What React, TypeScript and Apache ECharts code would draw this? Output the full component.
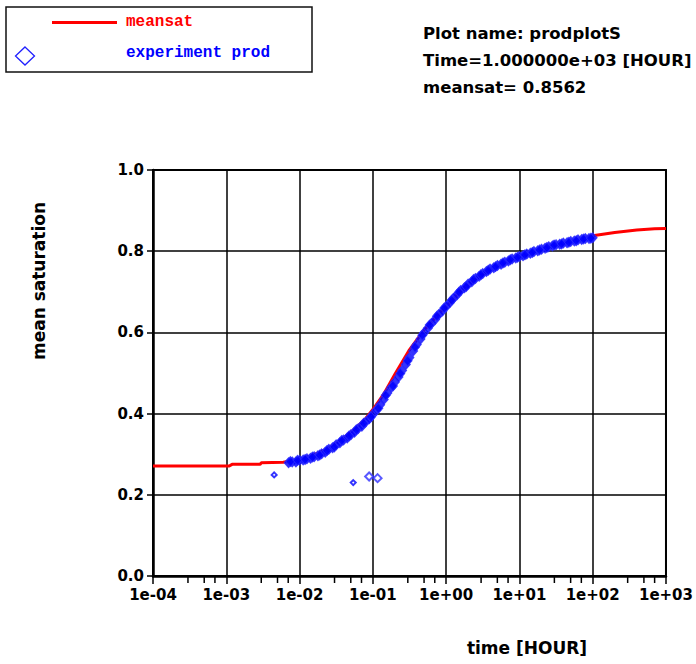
import React, { useEffect, useRef } from "react";
import * as echarts from "echarts";

// meansat (simulation curve)
const simTime = [1e-4, 1.1e-3, 1.2e-3, 2.9e-3, 3.0e-3, 6e-3, 1e-2, 1.5e-2, 2.5e-2, 4e-2, 6e-2, 8e-2, 0.1, 0.143, 0.2, 0.31, 0.49, 0.7, 1.0, 1.7, 2.6, 4, 10, 30, 70, 100, 200, 400, 700, 1000];
const simSat = [0.271, 0.271, 0.275, 0.275, 0.279, 0.280, 0.287, 0.297, 0.315, 0.340, 0.366, 0.388, 0.410, 0.450, 0.497, 0.555, 0.604, 0.635, 0.664, 0.708, 0.733, 0.755, 0.787, 0.815, 0.830, 0.838, 0.846, 0.852, 0.855, 0.856];

// experiment prod (measured points)
const expTime = [0.00708, 0.00794, 0.00891,
  0.01, 0.0112, 0.0126, 0.0141, 0.0158, 0.0178, 0.02, 0.0224, 0.0251, 0.0282, 0.0316, 0.0355, 0.0398, 0.0447, 0.0501, 0.0562, 0.0631, 0.0708, 0.0794, 0.0891,
  0.1, 0.112, 0.126, 0.141, 0.158, 0.178, 0.2, 0.224, 0.251, 0.282, 0.316, 0.355, 0.398, 0.447, 0.501, 0.562, 0.631, 0.708, 0.794, 0.891,
  1, 1.12, 1.26, 1.41, 1.58, 1.78, 2, 2.24, 2.51, 2.82, 3.16, 3.55, 3.98, 4.47, 5.01, 5.62, 6.31, 7.08, 7.94, 8.91,
  10, 11.2, 12.6, 14.1, 15.8, 17.8, 20, 22.4, 25.1, 28.2, 31.6, 35.5, 39.8, 44.7, 50.1, 56.2, 63.1, 70.8, 79.4, 89.1,
  100];
const expSat = [0.279, 0.281, 0.281,
  0.285, 0.286, 0.289, 0.290, 0.294, 0.296, 0.301, 0.305, 0.312, 0.316, 0.323, 0.328, 0.335, 0.340, 0.348, 0.354, 0.363, 0.369, 0.379, 0.387,
  0.398, 0.409, 0.422, 0.435, 0.451, 0.464, 0.478, 0.490, 0.506, 0.521, 0.538, 0.554, 0.570, 0.584, 0.599, 0.610, 0.622, 0.632, 0.644, 0.653,
  0.664, 0.673, 0.684, 0.693, 0.703, 0.710, 0.719, 0.725, 0.733, 0.738, 0.745, 0.750, 0.756, 0.759, 0.765, 0.768, 0.773, 0.776, 0.781, 0.783,
  0.787, 0.789, 0.793, 0.795, 0.799, 0.801, 0.805, 0.807, 0.811, 0.813, 0.816, 0.817, 0.820, 0.821, 0.824, 0.825, 0.828, 0.829, 0.831, 0.831,
  0.833];

// extra measured points between the main ones (scatter of the band)
const expTime2 = [0.0075, 0.0094, 0.0119, 0.0150, 0.0188, 0.0237, 0.0298, 0.0376, 0.0473, 0.0596, 0.0750, 0.0944,
  0.119, 0.150, 0.188, 0.237, 0.298, 0.376, 0.473, 0.596, 0.750, 0.944,
  1.19, 1.50, 1.88, 2.37, 2.98, 3.76, 4.73, 5.96, 7.50, 9.44,
  11.9, 15.0, 18.8, 23.7, 29.8, 37.6, 47.3, 59.6, 75.0, 94.4];
const expSat2 = [0.282, 0.285, 0.287, 0.293, 0.298, 0.309, 0.318, 0.334, 0.345, 0.360, 0.376, 0.392,
  0.413, 0.445, 0.468, 0.499, 0.530, 0.564, 0.593, 0.618, 0.640, 0.660,
  0.679, 0.699, 0.713, 0.730, 0.742, 0.753, 0.762, 0.771, 0.779, 0.785,
  0.791, 0.797, 0.803, 0.809, 0.815, 0.818, 0.822, 0.826, 0.830, 0.832];

// isolated experiment points
const smallOutTime = [0.0045, 0.054];
const smallOutSat = [0.249, 0.230];
const bigOutTime = [0.089, 0.116];
const bigOutSat = [0.245, 0.241];

// minor tick positions on the log axis
const minorTicks = [
  3e-4, 5e-4, 7e-4, 3e-3, 5e-3, 7e-3, 3e-2, 5e-2, 7e-2, 3e-1, 5e-1, 7e-1,
  3, 5, 7, 30, 50, 70, 300, 500, 700,
];

const titleLines = ["Plot name: prodplotS", "Time=1.000000e+03 [HOUR]", "meansat= 0.8562"];

const FONT = "DejaVu Sans";

const zip = (a: number[], b: number[]) => a.map((v, i) => [v, b[i]]);

export default function App() {
  const ref = useRef<HTMLDivElement>(null);
  useEffect(() => {
    if (!ref.current) return;
    const chart = echarts.init(ref.current, null, { renderer: "svg" });
    const fmtX = (v: number) => {
      const e = Math.round(Math.log10(v));
      return "1e" + (e < 0 ? "-" : "+") + String(Math.abs(e)).padStart(2, "0");
    };
    const bandStyle = { color: "#0000ff", borderColor: "#2a2aff", borderWidth: 1 };
    chart.setOption({
      animation: false,
      backgroundColor: "#fff",
      grid: {
        left: 153,
        right: 24,
        top: 170,
        bottom: 88,
        show: true,
        borderColor: "#000",
        borderWidth: 2,
      },
      xAxis: {
        type: "log",
        logBase: 10,
        min: 1e-4,
        max: 1e3,
        splitNumber: 7,
        axisLine: { show: true, lineStyle: { color: "#000", width: 2.5 } },
        axisTick: { show: true, length: 8, lineStyle: { color: "#000", width: 1.5 } },
        axisLabel: {
          formatter: fmtX,
          margin: 11,
          color: "#000",
          fontFamily: FONT,
          fontWeight: "bold",
          fontSize: 15,
        },
        splitLine: { show: true, lineStyle: { color: "#000", width: 1.5 } },
      },
      yAxis: {
        type: "value",
        min: 0,
        max: 1,
        interval: 0.2,
        axisLine: { show: true, lineStyle: { color: "#000", width: 2.5 } },
        axisTick: { show: true, length: 6, lineStyle: { color: "#000", width: 1.5 } },
        axisLabel: {
          formatter: (v: number) => v.toFixed(1),
          margin: 9,
          color: "#000",
          fontFamily: FONT,
          fontWeight: "bold",
          fontSize: 15,
        },
        splitLine: { show: true, lineStyle: { color: "#000", width: 1.5 } },
      },
      series: [
        {
          type: "custom",
          name: "minor ticks",
          clip: false,
          silent: true,
          data: minorTicks.map((t) => [t, 0]),
          renderItem: (params: any, api: any) => {
            const p = api.coord([api.value(0), 0]);
            return {
              type: "line",
              shape: { x1: p[0], y1: p[1] + 1, x2: p[0], y2: p[1] + 7 },
              style: { stroke: "#000", lineWidth: 1.5 },
            };
          },
          z: 3,
        },
        {
          type: "line",
          name: "meansat",
          data: zip(simTime, simSat),
          showSymbol: false,
          lineStyle: { color: "#ff0000", width: 3 },
          itemStyle: { color: "#ff0000" },
          z: 2,
        },
        {
          type: "scatter",
          name: "experiment prod",
          data: zip(expTime, expSat),
          symbol: "diamond",
          symbolSize: [9, 10],
          itemStyle: bandStyle,
          z: 4,
        },
        {
          type: "scatter",
          name: "experiment prod",
          data: zip(expTime2, expSat2),
          symbol: "diamond",
          symbolSize: [9, 10],
          itemStyle: bandStyle,
          z: 4,
        },
        {
          type: "scatter",
          name: "experiment prod",
          data: zip(smallOutTime, smallOutSat),
          symbol: "emptyDiamond",
          symbolSize: 5,
          itemStyle: { color: "#0000ff", borderColor: "#0000ff", borderWidth: 1.5 },
          z: 4,
        },
        {
          type: "scatter",
          name: "experiment prod",
          data: zip(bigOutTime, bigOutSat),
          symbol: "emptyDiamond",
          symbolSize: 8,
          itemStyle: { color: "#3030ff", borderColor: "#3030ff", borderWidth: 1 },
          z: 4,
        },
      ],
      graphic: [
        {
          type: "rect",
          shape: { x: 6, y: 7, width: 306, height: 65 },
          style: { fill: "none", stroke: "#111", lineWidth: 1.5 },
        },
        {
          type: "line",
          shape: { x1: 52, y1: 22.5, x2: 117, y2: 22.5 },
          style: { stroke: "#ff0000", lineWidth: 3 },
        },
        {
          type: "text",
          x: 126,
          y: 22,
          style: {
            text: "meansat",
            fill: "#ff0000",
            font: "bold 16px 'Liberation Mono'",
            verticalAlign: "middle",
          },
        },
        {
          type: "polygon",
          shape: { points: [[25, 47], [34.5, 56], [25, 65], [15.5, 56]] },
          style: { fill: "none", stroke: "#2020ff", lineWidth: 1.3 },
        },
        {
          type: "text",
          x: 126,
          y: 53,
          style: {
            text: "experiment prod",
            fill: "#0000ff",
            font: "bold 16px 'Liberation Mono'",
            verticalAlign: "middle",
          },
        },
        ...titleLines.map((t, i) => ({
          type: "text",
          x: 423,
          y: 33 + i * 27,
          style: {
            text: t,
            fill: "#000",
            font: `bold 16.5px '${FONT}'`,
            verticalAlign: "middle",
          },
        })),
        {
          type: "text",
          x: 527,
          y: 648,
          style: {
            text: "time [HOUR]",
            fill: "#000",
            font: `bold 17px '${FONT}'`,
            align: "center",
            verticalAlign: "middle",
          },
        },
        {
          type: "text",
          x: 39,
          y: 281,
          rotation: Math.PI / 2,
          style: {
            text: "mean saturation",
            fill: "#000",
            font: `bold 17px '${FONT}'`,
            align: "center",
            verticalAlign: "middle",
          },
        },
      ],
    });
    return () => chart.dispose();
  }, []);
  return <div ref={ref} style={{ width: 696, height: 664, position: "absolute", left: 0, top: 0 }} />;
}
